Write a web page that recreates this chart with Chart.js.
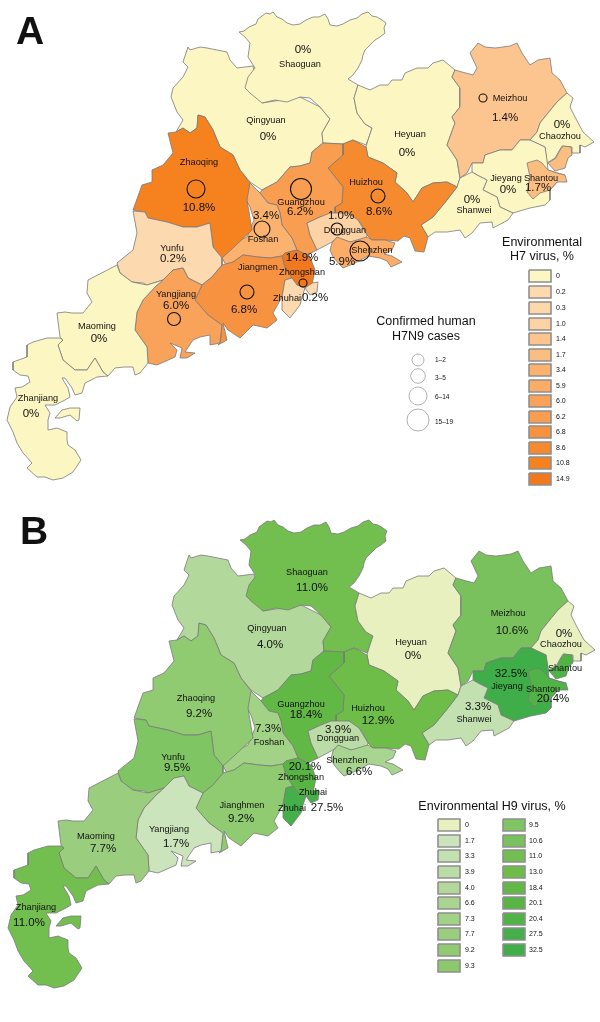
<!DOCTYPE html>
<html>
<head>
<meta charset="utf-8">
<script src="https://cdn.jsdelivr.net/npm/chart.js@4"></script>
<style>
  body { margin: 0; background: #fff; }
  canvas { position: absolute; }
  #chartA { left: 0; top: 0; }
  #chartB { left: 1px; top: 508px; }
</style>
</head>
<body>
<canvas id="chartA" width="599" height="508"></canvas>
<canvas id="chartB" width="599" height="514"></canvas>
<script>
// region values
var regions = ["Shaoguan","Qingyuan","Heyuan","Meizhou","Chaozhou","Shantou","Jieyang","Shanwei","Huizhou","Dongguan","Shenzhen","Guangzhou","Foshan","Zhaoqing","Yunfu","Yangjiang","Jiangmen","Zhongshan","Zhuhai","Maoming","Zhanjiang"];
var h7Values = [0,0,0,1.4,0,1.7,0,0,8.6,1.0,5.9,6.2,3.4,10.8,0.2,6.0,6.8,14.9,0.2,0,0];
var h9Values = [11.0,4.0,0,10.6,0,20.4,32.5,3.3,12.9,3.9,6.6,18.4,7.3,9.2,9.5,1.7,9.2,20.1,27.5,7.7,11.0];

// legends
var h7LegendValues = ["0","0.2","0.3","1.0","1.4","1.7","3.4","5.9","6.0","6.2","6.8","8.6","10.8","14.9"];
var h7LegendColors = ["#fcf6c2","#fdd9b0","#fdd8ab","#fdd3a5","#fcc48f","#fcbd80","#fbb26f","#fbac67","#f9a25a","#f99d50","#f79240","#f68a2e","#f5811f","#f0791f"];
var h9LegendValues = ["0","1.7","3.3","3.9","4.0","6.6","7.3","7.7","9.2","9.3","9.5","10.6","11.0","13.0","18.4","20.1","20.4","27.5","32.5"];
var h9LegendColors = ["#e9f0bf","#cbe4bb","#c3e0b0","#bbdca6","#b2d89b","#a8d590","#a1d285","#9ace7e","#90cb72","#8bc96c","#80c564","#78c15c","#72bf50","#6ebd48","#62b845","#58b544","#50b346","#45b04a","#3fae49"];
var caseBands = ["1–2","3–5","6–14","15–19"];

// region outlines, map units
var qingyuanOutline = [[188,47],[190,50],[200,47],[207,48],[217,50],[227,52],[230,60],[237,68],[253,66],[262,103],[300,97],[320,107],[330,119],[322,133],[323,143],[312,152],[310,163],[300,166],[290,167],[277,182],[262,190],[250,182],[240,170],[233,155],[220,147],[213,130],[205,117],[198,115],[197,128],[190,133],[183,128],[176,132],[183,120],[177,112],[171,97],[173,88],[183,77],[188,67],[183,62],[188,47]];
var shaoguanOutline = [[239,32],[244,31],[249,27],[256,24],[258,19],[262,16],[266,13],[270,14],[273,12],[277,17],[282,19],[287,23],[293,25],[300,24],[306,20],[313,17],[319,17],[325,14],[328,19],[330,25],[337,26],[343,24],[350,20],[357,18],[362,14],[368,12],[372,16],[377,17],[382,20],[386,23],[384,28],[385,33],[380,37],[375,40],[370,45],[365,50],[363,55],[362,60],[358,68],[353,75],[348,79],[358,85],[354,98],[357,113],[365,124],[372,128],[368,140],[366,145],[353,140],[343,144],[323,143],[322,133],[330,119],[320,107],[310,98],[300,97],[287,102],[275,100],[262,103],[250,93],[245,88],[248,77],[255,68],[248,57],[250,43],[245,37],[239,32]];
var shaoguanLake = [[372,128],[375,118],[382,113],[384,118],[380,124],[372,128]];
var heyuanOutline = [[358,85],[370,90],[380,85],[388,85],[392,80],[402,80],[405,73],[417,68],[428,68],[433,63],[443,60],[455,70],[452,77],[460,88],[460,107],[452,117],[455,123],[447,145],[457,160],[460,178],[457,187],[447,182],[433,183],[422,188],[413,202],[407,193],[395,182],[397,173],[383,163],[368,157],[366,147],[368,140],[372,128],[365,124],[357,113],[354,98],[358,85]];
var meizhouOutline = [[455,70],[462,72],[473,75],[477,68],[470,53],[478,43],[485,47],[495,48],[503,47],[510,46],[517,43],[522,53],[530,65],[538,60],[550,58],[552,73],[560,80],[567,93],[557,102],[548,113],[540,123],[537,132],[530,140],[520,140],[512,150],[500,150],[485,155],[483,163],[472,163],[467,173],[460,178],[457,160],[447,145],[455,123],[452,117],[460,107],[460,88],[452,77],[455,70]];
var chaozhouOutline = [[567,93],[573,98],[570,107],[575,117],[583,132],[594,142],[585,147],[580,145],[580,153],[572,153],[572,147],[562,146],[555,158],[547,163],[545,147],[530,140],[537,132],[540,123],[548,113],[557,102],[567,93]];
var jieyangOutline = [[485,155],[500,150],[512,150],[520,140],[530,140],[545,147],[547,160],[548,170],[557,173],[565,175],[557,182],[550,190],[550,200],[545,205],[530,208],[523,210],[513,213],[500,207],[497,197],[483,190],[487,180],[477,175],[472,172],[472,163],[483,163],[485,155]];
var shantouNorth = [[548,163],[556,158],[560,150],[563,146],[571,147],[572,155],[568,158],[565,168],[555,171],[548,163]];
var shantouSouth = [[527,163],[537,160],[542,163],[548,170],[557,173],[565,175],[567,182],[557,182],[550,190],[540,193],[533,199],[527,192],[530,177],[527,163]];
var shanweiOutline = [[460,178],[472,172],[477,175],[487,180],[483,190],[497,197],[500,207],[513,213],[508,220],[493,228],[492,222],[480,223],[472,233],[465,238],[460,230],[447,232],[435,232],[428,237],[421,225],[433,217],[447,200],[457,187],[460,178]];
var huizhouOutline = [[366,147],[368,157],[383,163],[397,173],[395,182],[407,193],[413,202],[422,188],[433,183],[447,182],[457,187],[447,200],[433,217],[421,225],[428,237],[424,252],[415,251],[410,238],[404,236],[398,241],[385,240],[372,240],[367,235],[360,222],[352,217],[348,213],[335,215],[335,207],[342,203],[343,187],[328,168],[343,155],[343,144],[353,140],[366,147]];
var guangzhouOutline = [[262,190],[277,182],[290,167],[300,166],[310,163],[312,152],[323,143],[343,144],[343,155],[328,168],[343,187],[342,203],[335,207],[335,215],[320,217],[307,223],[310,235],[317,250],[307,255],[297,250],[292,238],[282,225],[280,213],[277,205],[268,203],[260,193],[262,190]];
var dongguanOutline = [[307,223],[320,217],[330,213],[348,213],[358,220],[367,235],[365,242],[350,242],[337,238],[332,242],[317,250],[310,235],[307,223]];
var shenzhenOutline = [[332,243],[337,237],[350,242],[367,237],[372,240],[385,240],[395,243],[392,250],[384,254],[392,256],[402,262],[391,267],[387,261],[380,258],[368,256],[355,263],[343,268],[340,265],[333,257],[330,250],[332,243]];
var foshanOutline = [[250,183],[260,193],[268,203],[277,205],[280,213],[282,225],[292,238],[297,250],[285,253],[282,256],[270,258],[258,257],[243,255],[233,262],[226,265],[222,258],[230,245],[247,237],[254,220],[250,207],[245,198],[248,187],[250,183]];
var zhaoqingOutline = [[168,133],[176,132],[183,128],[190,133],[197,128],[198,115],[205,117],[213,130],[220,147],[233,155],[240,170],[250,183],[247,200],[252,230],[233,248],[222,258],[213,247],[210,223],[197,227],[183,227],[167,222],[148,218],[145,212],[133,210],[142,185],[152,182],[152,170],[163,165],[173,153],[168,133]];
var yunfuOutline = [[133,211],[145,212],[148,218],[167,222],[183,227],[197,227],[210,223],[213,247],[222,258],[222,265],[212,277],[202,285],[188,278],[183,268],[173,270],[163,280],[147,285],[143,283],[132,282],[120,273],[117,263],[133,250],[137,233],[133,211]];
var jiangmenOutline = [[202,285],[212,277],[222,265],[233,262],[243,255],[258,257],[270,258],[282,256],[285,267],[292,278],[285,280],[282,297],[273,313],[277,320],[267,328],[253,325],[240,338],[228,330],[223,323],[227,340],[218,345],[220,343],[222,325],[208,315],[195,300],[202,285]];
var zhongshanOutline = [[282,256],[285,253],[297,250],[310,257],[315,270],[312,285],[305,288],[297,285],[292,278],[285,267],[282,256]];
var zhuhaiWest = [[285,280],[292,278],[297,285],[305,288],[302,297],[300,305],[290,318],[282,310],[282,297],[285,280]];
var zhuhaiEast = [[305,288],[312,283],[318,282],[317,292],[310,295],[305,288]];
var yangjiangOutline = [[163,280],[173,270],[183,268],[188,278],[202,285],[195,300],[208,315],[222,325],[220,343],[210,345],[210,335],[200,337],[193,340],[185,352],[195,353],[187,358],[180,358],[182,348],[175,345],[170,343],[177,350],[175,357],[157,365],[148,363],[147,347],[135,330],[137,312],[143,300],[155,287],[163,280]];
var maomingOutline = [[117,265],[120,273],[132,282],[147,285],[163,280],[155,287],[143,300],[137,312],[135,330],[147,347],[148,363],[140,373],[135,375],[133,367],[124,367],[115,368],[108,376],[103,372],[95,358],[87,370],[75,370],[63,360],[58,345],[63,340],[60,337],[57,313],[65,312],[72,313],[83,313],[92,302],[87,293],[88,280],[117,265]];
var zhanjiangOutline = [[60,338],[47,338],[33,342],[27,345],[27,357],[13,362],[13,370],[20,375],[28,376],[30,382],[22,387],[15,388],[17,397],[10,407],[7,420],[13,432],[17,443],[23,453],[32,463],[27,468],[37,477],[45,477],[53,480],[63,478],[73,472],[81,460],[75,450],[68,445],[67,440],[67,432],[57,428],[48,430],[48,420],[50,413],[45,405],[55,405],[65,400],[70,397],[68,388],[62,378],[65,378],[72,388],[75,395],[82,393],[85,383],[97,377],[108,376],[103,372],[95,358],[87,370],[75,370],[63,360],[58,345],[63,340],[60,338]];
var zhanjiangIsland = [[55,418],[62,410],[70,408],[80,408],[79,420],[77,421],[70,415],[60,418],[55,418]];

var outlines = [
  ["Qingyuan", qingyuanOutline], ["Shaoguan", shaoguanOutline], ["Shaoguan", shaoguanLake],
  ["Heyuan", heyuanOutline], ["Meizhou", meizhouOutline], ["Chaozhou", chaozhouOutline],
  ["Jieyang", jieyangOutline], ["Shantou", shantouNorth], ["Shantou", shantouSouth],
  ["Shanwei", shanweiOutline], ["Huizhou", huizhouOutline], ["Guangzhou", guangzhouOutline],
  ["Dongguan", dongguanOutline], ["Shenzhen", shenzhenOutline], ["Foshan", foshanOutline],
  ["Zhaoqing", zhaoqingOutline], ["Yunfu", yunfuOutline], ["Jiangmen", jiangmenOutline],
  ["Zhongshan", zhongshanOutline], ["Zhuhai", zhuhaiWest], ["Zhuhai", zhuhaiEast],
  ["Yangjiang", yangjiangOutline], ["Maoming", maomingOutline], ["Zhanjiang", zhanjiangOutline],
  ["Zhanjiang", zhanjiangIsland]
];

// case circles on map A
var caseSites = [[196,189],[301,189],[378,196],[262,229],[337,229],[360,251],[303,283],[247,292],[174,319],[483,98]];
var caseRadii = [9,10.5,7,8,6,10,4,7,6.5,4];
var caseLegendSites = [[418,360],[418,376],[418,396],[418,420]];
var caseLegendRadii = [6,7.3,9,11];

// text placement, same order as regions
var h7NamePos = [[300,64],[266,120],[410,134],[510,98],[560,136],[541,178],[506,178],[474,210],[366,182],[345,230],[372,250],[301,202],[263,239],[199,162],[172,248],[176,294],[258,267],[302,272],[287,298],[97,326],[38,398]];
var h7ValuePos = [[303,50],[268,137],[407,153],[505,118],[562,125],[538,188],[508,190],[472,200],[379,212],[341,216],[342,262],[300,212],[266,216],[199,208],[173,259],[176,306],[244,310],[302,258],[315,298],[99,339],[31,414]];
var h9NamePos = [[306,64],[266,120],[410,134],[507,105],[560,136],[542,181],[506,178],[473,211],[367,200],[337,230],[346,252],[300,196],[268,234],[195,190],[172,249],[168,321],[241,297],[300,269],[291,300],[95,328],[35,399]];
var h9ValuePos = [[311,80],[269,137],[412,148],[511,123],[563,126],[552,191],[510,166],[477,199],[377,213],[337,222],[358,264],[305,207],[267,221],[198,206],[176,260],[175,336],[240,311],[304,259],[326,300],[102,341],[28,415]];
var h9ExtraNames = [["Shantou",564,160],["Zhuhai",312,284]];

var mapFont = '"Liberation Sans", Arial, sans-serif';

function regionColor(value, legendValues, legendColors) {
  var best = 0;
  legendValues.forEach(function (v, i) {
    if (Math.abs(parseFloat(v) - value) < Math.abs(parseFloat(legendValues[best]) - value)) best = i;
  });
  return legendColors[best];
}

function toPoints(list) {
  return list.map(function (p) { return {x: p[0], y: p[1]}; });
}

function swatchDataset(color, x, y) {
  return {
    data: toPoints([[x,y-6],[x+22,y-6],[x+22,y+6],[x,y+6],[x,y-6]]),
    showLine: true, fill: 'shape', backgroundColor: color, borderColor: '#8f8f8f',
    borderWidth: 1.6, pointRadius: 0, order: 1
  };
}

function mapDatasets(values, legendValues, legendColors) {
  return outlines.map(function (item, i) {
    return {
      label: item[0],
      data: toPoints(item[1]),
      showLine: true,
      fill: 'shape',
      backgroundColor: regionColor(values[regions.indexOf(item[0])], legendValues, legendColors),
      borderColor: '#7a7a7a',
      borderWidth: 0.8,
      pointRadius: 0,
      order: 100 - i
    };
  });
}

function valueText(v) {
  return v === 0 ? '0%' : v.toFixed(1) + '%';
}

function textPlugin(draw) {
  return {
    id: 'mapText',
    afterDatasetsDraw: function (chart) {
      var ctx = chart.ctx, sx = chart.scales.x, sy = chart.scales.y;
      ctx.save();
      ctx.textAlign = 'center';
      ctx.textBaseline = 'middle';
      ctx.fillStyle = '#111';
      draw(function (text, x, y, size, weight, align) {
        ctx.font = (weight || 'normal') + ' ' + size + 'px ' + mapFont;
        ctx.textAlign = align || 'center';
        ctx.fillText(text, sx.getPixelForValue(x), sy.getPixelForValue(y));
      });
      ctx.restore();
    }
  };
}

function makeChart(id, height, datasets, draw) {
  return new Chart(document.getElementById(id), {
    type: 'scatter',
    data: {datasets: datasets},
    plugins: [textPlugin(draw)],
    options: {
      responsive: false,
      animation: false,
      layout: {padding: 0, autoPadding: false},
      plugins: {legend: {display: false}, tooltip: {enabled: false}},
      scales: {
        x: {display: false, min: 0, max: 599},
        y: {display: false, min: 0, max: height, reverse: true}
      }
    }
  });
}

// map A
var datasetsA = mapDatasets(h7Values, h7LegendValues, h7LegendColors);
datasetsA.push({
  data: toPoints(caseSites), pointRadius: caseRadii, pointBackgroundColor: 'rgba(0,0,0,0)',
  pointBorderColor: '#111', pointBorderWidth: 1.1, order: 2
});
datasetsA.push({
  data: toPoints(caseLegendSites), pointRadius: caseLegendRadii, pointBackgroundColor: 'rgba(0,0,0,0)',
  pointBorderColor: '#a8a8a8', pointBorderWidth: 0.9, order: 2
});
var h7LegendY = [276,292,308,324,339,355,370,386,401,417,432,448,463,479];
h7LegendColors.forEach(function (c, i) {
  datasetsA.push(swatchDataset(c, 529, h7LegendY[i]));
});

makeChart('chartA', 508, datasetsA, function (put) {
  put('A', 30, 33, 39, 'bold');
  regions.forEach(function (r, i) {
    put(r, h7NamePos[i][0], h7NamePos[i][1], 9.2);
    put(valueText(h7Values[i]), h7ValuePos[i][0], h7ValuePos[i][1], 11.5);
  });
  put('Environmental', 542, 243, 12.5);
  put('H7 virus, %', 542, 257, 12.5);
  put('Confirmed human', 426, 322, 12.5);
  put('H7N9 cases', 426, 337, 12.5);
  var bandY = [360,378,397,422];
  caseBands.forEach(function (b, i) { put(b, 435, bandY[i], 6.5, 'normal', 'left'); });
  h7LegendValues.forEach(function (v, i) { put(v, 556, h7LegendY[i], 7, 'normal', 'left'); });
});

// map B
var datasetsB = mapDatasets(h9Values, h9LegendValues, h9LegendColors);
var h9LegendY = [317,333,348,364,380,395,411,426,442,458];
var h9LegendX = [437,502];
h9LegendColors.forEach(function (c, i) {
  var col = i < 10 ? 0 : 1;
  datasetsB.push(swatchDataset(c, h9LegendX[col], h9LegendY[col ? i - 10 : i]));
});

makeChart('chartB', 514, datasetsB, function (put) {
  put('B', 33, 25, 39, 'bold');
  regions.forEach(function (r, i) {
    var name = r === 'Jiangmen' ? 'Jianghmen' : r;
    put(name, h9NamePos[i][0], h9NamePos[i][1], 9.2);
    put(valueText(h9Values[i]), h9ValuePos[i][0], h9ValuePos[i][1], 11.5);
  });
  h9ExtraNames.forEach(function (n) { put(n[0], n[1], n[2], 9.2); });
  put('Environmental H9 virus, %', 491, 299, 12.5);
  h9LegendValues.forEach(function (v, i) {
    var col = i < 10 ? 0 : 1;
    put(v, col ? 528 : 464, h9LegendY[col ? i - 10 : i], 7, 'normal', 'left');
  });
});
</script>
</body>
</html>
